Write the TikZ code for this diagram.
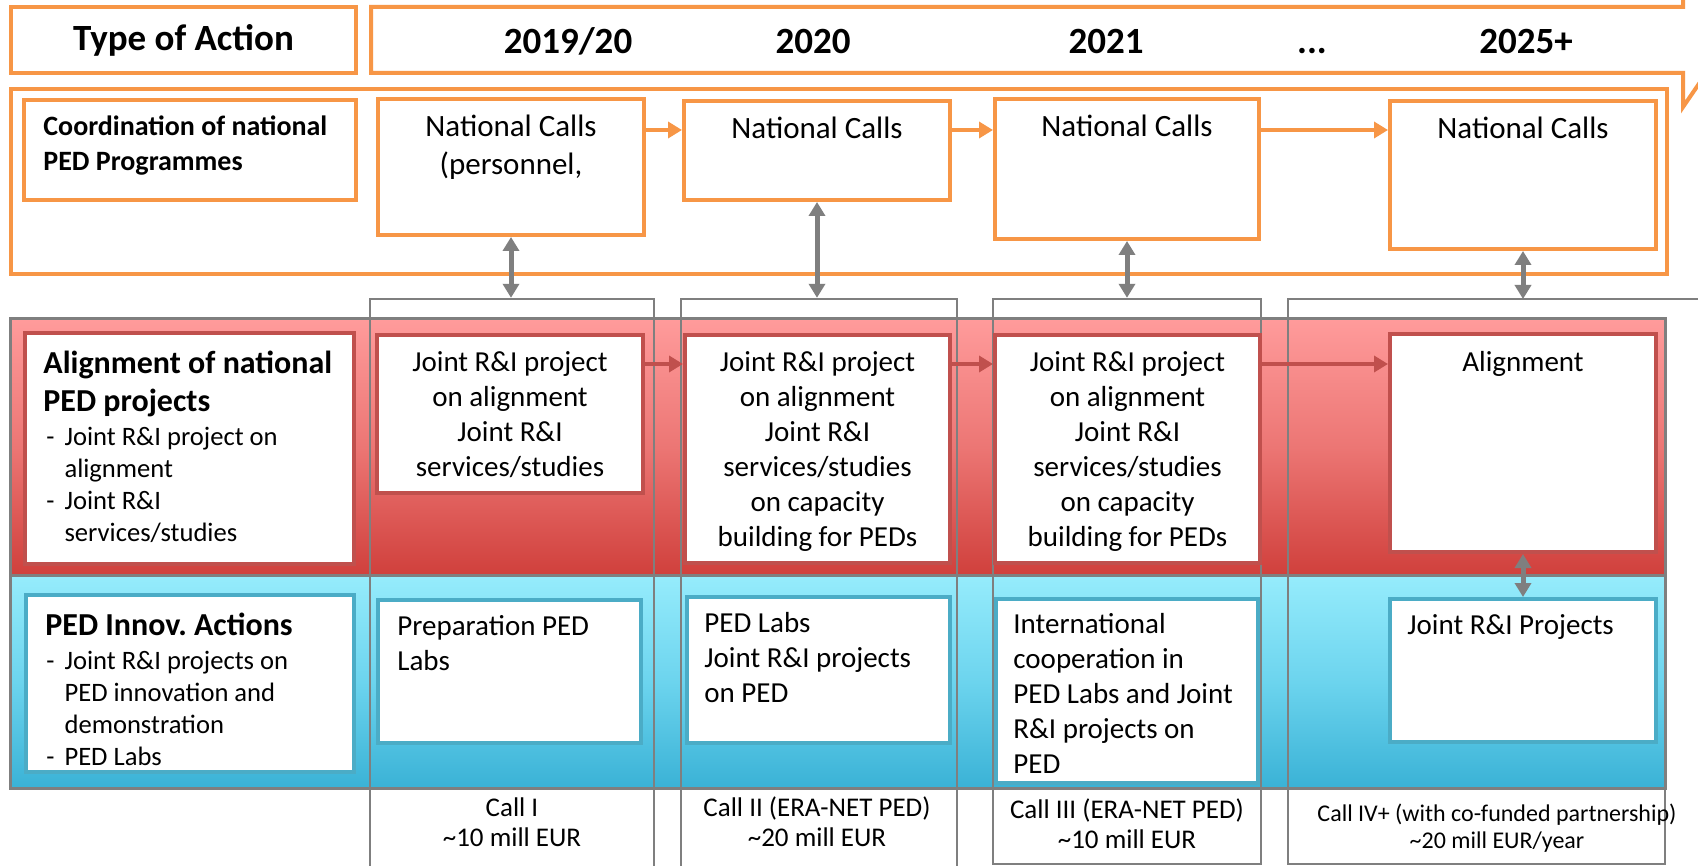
\documentclass[tikz,border=0pt]{standalone}
\usepackage{fontspec}
\setmainfont{Carlito}
\usetikzlibrary{arrows.meta,fit,positioning}
\definecolor{pedorange}{HTML}{F79646}
\definecolor{pedred}{HTML}{C0504D}
\definecolor{pedblue}{HTML}{4BACC6}
\definecolor{pedgray}{HTML}{7F7F7F}
\definecolor{redtop}{RGB}{255,155,155}
\definecolor{redmid}{RGB}{236,118,116}
\definecolor{redbot}{RGB}{208,64,60}
\definecolor{bluetop}{RGB}{150,236,252}
\definecolor{bluemid}{RGB}{108,212,238}
\definecolor{bluebot}{RGB}{58,178,214}
\begin{document}
\begin{tikzpicture}[x=0.5pt,y=-0.5pt,
  orangeframe/.style={draw=pedorange,line width=2pt,inner sep=0pt},
  natcall/.style={orangeframe,fill=white},
  jointbox/.style={draw=pedred,line width=2pt,fill=white,inner sep=0pt},
  innovbox/.style={draw=pedblue,line width=2pt,fill=white,inner sep=0pt},
  colframe/.style={draw=pedgray,line width=1.2pt,inner sep=0pt},
  yearlabel/.style={font=\bfseries\fontsize{18.5}{22}\selectfont,anchor=base},
  actiontitle/.style={font=\bfseries\fontsize{16}{19}\selectfont,align=left,inner sep=0pt},
  actionlist/.style={font=\fontsize{13.3}{16}\selectfont,inner sep=0pt},
  calltext/.style={font=\fontsize{15.5}{19}\selectfont,align=center,inner sep=0pt},
  boxtext/.style={font=\fontsize{14.5}{17.5}\selectfont,align=center,inner sep=0pt},
  lefttext/.style={font=\fontsize{14.5}{17.5}\selectfont,align=left,inner sep=0pt},
  fundtext/.style={font=\fontsize{13.5}{15}\selectfont,align=center,inner sep=0pt},
  flow/.style={line width=2.2pt,-{Triangle[width=8pt,length=7pt]}},
  link/.style={draw=pedgray,line width=2.5pt,{Triangle[width=8pt,length=7pt]}-{Triangle[width=8pt,length=7pt]}}
]
  \clip (0,0) rectangle (1698,866);
  \fill[white] (0,0) rectangle (1698,866);
  % header
  \draw[orangeframe] (371,7) -- (1683,7) -- (1683,-27) -- (1729,40) -- (1683,107) -- (1683,73) -- (371,73) -- cycle;
  \node[orangeframe,fit={(11,7) (356,73)}] (toa) {};
  \node[font=\bfseries\fontsize{18.5}{22}\selectfont] (toat) at (toa.center) {Type of Action};
  \node[yearlabel] (y1) at (568,53.5) {2019/20};
  \node[yearlabel] (y2) at (813,53.5) {2020};
  \node[yearlabel] (y3) at (1106,53.5) {2021};
  \node[yearlabel] (y4) at (1312,53.5) {...};
  \node[yearlabel] (y5) at (1526,53.5) {2025+};
  % coordination row
  \node[orangeframe,fit={(11,89) (1667,274)}] (coord) {};
  \node[natcall,fit={(24,100) (356,200)}] (coordlbl) {};
  \node[actiontitle,font=\bfseries\fontsize{14}{17.5}\selectfont,below right=8.5pt and 10.5pt of coordlbl.north west] (coordt) {Coordination of national\\PED Programmes};
  \node[natcall,fit={(378,99) (644,235)}] (nc1) {};
  \node[natcall,fit={(684,101) (950,200)}] (nc2) {};
  \node[natcall,fit={(995,99) (1259,239)}] (nc3) {};
  \node[natcall,fit={(1390,101) (1656,249)}] (nc4) {};
  \node[calltext,below=9pt of nc1.north] (nct1) {National Calls\\(personnel,};
  \foreach \n in {2,3,4}
    \node[calltext,below=9pt of nc\n.north] (nct\n) {National Calls};
  \coordinate (orow) at (0,130);
  \foreach \a/\b in {nc1/nc2,nc2/nc3,nc3/nc4}
    \draw[flow,draw=pedorange] (\a.east |- orow) -- (\b.west |- orow);
  % bands
  \shadedraw[top color=redtop,bottom color=redbot,middle color=redmid,draw=pedgray,line width=1.5pt] (10,319) rectangle (1665,575);
  \shadedraw[top color=bluetop,bottom color=bluebot,middle color=bluemid,draw=pedgray,line width=1.5pt] (10,575) rectangle (1665,788);
  % year columns
  \foreach \n/\l/\r/\b in {col1/370/654/900,col2/681/957/900,col3/993/1261/864}
    \node[colframe,fit={(\l,299) (\r,\b)}] (\n) {};
  \coordinate (col4) at (1288,299);
  \draw[colframe] (1720,299) -| (1288,864) -| (1665,788);
  \foreach \a/\b in {nc1/col1.north,nc2/col2.north,nc3/col3.north,nc4/col4}
    \draw[link] (\a.south) -- (\a.south |- \b);
  % alignment row
  \node[jointbox,fit={(25,333) (354,564)}] (alg) {};
  \node[actiontitle,below right=10pt and 10pt of alg.north west] (algt) {Alignment of national\\PED projects};
  \node[actionlist,below right=45.75pt and 11.5pt of alg.north west] (algl) {\begin{tabular}{@{}l@{\hspace{5pt}}l@{}}-&Joint R\&I project on\\&alignment\\-&Joint R\&I\\&services/studies\end{tabular}};
  \node[jointbox,fit={(377,335) (643,493)}] (ja1) {};
  \node[jointbox,fit={(685,335) (950,563)}] (ja2) {};
  \node[jointbox,fit={(995,335) (1260,563)}] (ja3) {};
  \node[jointbox,fit={(1390,334) (1656,552)}] (ja4) {};
  \node[boxtext,below=9pt of ja1.north] (jat1) {Joint R\&I project\\on alignment\\Joint R\&I\\services/studies};
  \foreach \n in {2,3}
    \node[boxtext,below=9pt of ja\n.north] (jat\n) {Joint R\&I project\\on alignment\\Joint R\&I\\services/studies\\on capacity\\building for PEDs};
  \node[boxtext,below=9.5pt of ja4.north] (jat4) {Alignment};
  \coordinate (rrow) at (0,364);
  \foreach \a/\b in {ja1/ja2,ja2/ja3,ja3/ja4}
    \draw[flow,draw=pedred] (\a.east |- rrow) -- (\b.west |- rrow);
  % innovation row
  \node[innovbox,fit={(26,595) (354,772)}] (ped) {};
  \node[actiontitle,below right=10pt and 10.5pt of ped.north west] (pedt) {PED Innov.\ Actions};
  \node[actionlist,below right=26.7pt and 11pt of ped.north west] (pedl) {\begin{tabular}{@{}l@{\hspace{5pt}}l@{}}-&Joint R\&I projects on\\&PED innovation and\\&demonstration\\-&PED Labs\end{tabular}};
  \node[innovbox,fit={(378,600) (641,743)}] (pi1) {};
  \node[innovbox,fit={(687,597) (950,743)}] (pi2) {};
  \node[innovbox,fit={(996,599) (1258,783)}] (pi3) {};
  \node[innovbox,fit={(1390,599) (1656,742)}] (pi4) {};
  \node[lefttext,below right=8.5pt and 10.5pt of pi1.north west] (pit1) {Preparation PED\\Labs};
  \node[lefttext,below right=8.5pt and 9.5pt of pi2.north west] (pit2) {PED Labs\\Joint R\&I projects\\on PED};
  \node[lefttext,below right=8pt and 9.5pt of pi3.north west] (pit3) {International\\cooperation in\\PED Labs and Joint\\R\&I projects on\\PED};
  \node[lefttext,below right=8.5pt and 9.5pt of pi4.north west] (pit4) {Joint R\&I Projects};
  \draw[link] (ja4.south) -- (pi4.north);
  % funding
  \node[fundtext] (f1) at (512,822) {Call I\\\textasciitilde10 mill EUR};
  \node[fundtext] (f2) at (817,822) {Call II (ERA-NET PED)\\\textasciitilde20 mill EUR};
  \node[fundtext] (f3) at (1127,824) {Call III (ERA-NET PED)\\\textasciitilde10 mill EUR};
  \node[fundtext,font=\fontsize{12}{13.5}\selectfont] (f4) at (1497,828) {Call IV+ (with co-funded partnership)\\\textasciitilde20 mill EUR/year};
\end{tikzpicture}
\end{document}
